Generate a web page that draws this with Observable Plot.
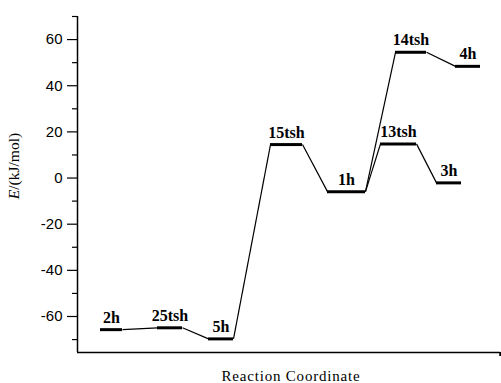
<!DOCTYPE html>
<html>
<head>
<meta charset="utf-8">
<script src="https://cdn.jsdelivr.net/npm/d3@7"></script>
<script src="https://cdn.jsdelivr.net/npm/@observablehq/plot@0.6"></script>
<style>
  html, body { margin: 0; padding: 0; background: #fff; }
  #chart svg { display: block; }
</style>
</head>
<body>
<div id="chart"></div>
<script>
// Species (levels) along the reaction coordinate
const names    = ["2h", "25tsh", "5h", "15tsh", "1h", "13tsh", "14tsh", "3h", "4h"];
const energies = [-65.7, -64.9, -69.7, 14.5, -5.9, 14.8, 54.5, -2.1, 48.4]; // kJ/mol
const xStart   = [2.3, 8.0, 13.1, 19.3, 25.0, 30.3, 31.8, 35.9, 37.8];      // reaction-coordinate units
const xEnd     = [4.5, 10.5, 15.6, 22.5, 28.8, 33.9, 34.9, 38.4, 40.3];
// Connections between levels
const linkFrom = ["2h", "25tsh", "5h", "15tsh", "1h", "1h", "13tsh", "14tsh"];
const linkTo   = ["25tsh", "5h", "15tsh", "1h", "13tsh", "14tsh", "3h", "4h"];
// Axis ticks
const yMajorTicks = [-60, -40, -20, 0, 20, 40, 60];
const yMinorTicks = [-70, -50, -30, -10, 10, 30, 50, 70];
const xDomain = [0, 42.3];
const yDomain = [-75.6, 70];

const levels = names.map((n, i) => ({name: n, e: energies[i], x0: xStart[i], x1: xEnd[i]}));
const byName = new Map(levels.map(d => [d.name, d]));
const links = linkFrom.map((f, i) => ({a: byName.get(f), b: byName.get(linkTo[i])}));

const chart = Plot.plot({
  width: 501,
  height: 383,
  marginLeft: 77,
  marginRight: 1,
  marginTop: 16,
  marginBottom: 31,
  style: {fontFamily: "'Liberation Sans', Arial, sans-serif", fontSize: "15px", color: "#000", background: "#fff"},
  x: {domain: xDomain, axis: null},
  y: {domain: yDomain, axis: null},
  marks: [
    Plot.ruleX([xDomain[0]], {stroke: "#000", strokeWidth: 1.5}),
    Plot.ruleY([yDomain[0]], {stroke: "#000", strokeWidth: 1.5}),
    Plot.axisY({ticks: yMajorTicks, tickFormat: d => String(d), tickSize: 10, tickPadding: 5, label: null, strokeWidth: 1.2, fontSize: 15, letterSpacing: 0.8}),
    Plot.axisY({ticks: yMinorTicks, tickSize: 5, text: null, label: null, strokeWidth: 1.2}),
    Plot.axisX({ticks: [xDomain[1]], tickSize: 4, text: null, label: null, strokeWidth: 2.5}),
    Plot.link(links, {
      x1: d => d.a.x1, y1: d => d.a.e,
      x2: d => d.b.x0, y2: d => d.b.e,
      stroke: "#000", strokeWidth: 1.2
    }),
    Plot.ruleY(levels, {y: "e", x1: "x0", x2: "x1", stroke: "#000", strokeWidth: 3}),
    Plot.text(levels, {
      x: d => (d.x0 + d.x1) / 2, y: "e", text: "name",
      dy: -7, lineAnchor: "bottom",
      fontFamily: "'Liberation Serif', 'Times New Roman', serif",
      fontWeight: "bold", fontSize: 16, letterSpacing: 0.6, fill: "#000"
    })
  ]
});

document.getElementById("chart").appendChild(chart);

// Axis titles (with italic E)
const svg = d3.select(chart);
const yt = svg.append("text")
  .attr("transform", "translate(19,166) rotate(-90)")
  .attr("text-anchor", "middle")
  .attr("font-family", "'Liberation Serif', 'Times New Roman', serif")
  .attr("font-size", 15.5)
  .attr("fill", "#000");
yt.append("tspan").attr("font-style", "italic").text("E");
yt.append("tspan").text("/(kJ/mol)");

svg.append("text")
  .attr("x", 291).attr("y", 381)
  .attr("text-anchor", "middle")
  .attr("font-family", "'Liberation Serif', 'Times New Roman', serif")
  .attr("font-size", 15)
  .attr("letter-spacing", 0.8)
  .attr("fill", "#000")
  .text("Reaction Coordinate");
</script>
</body>
</html>
